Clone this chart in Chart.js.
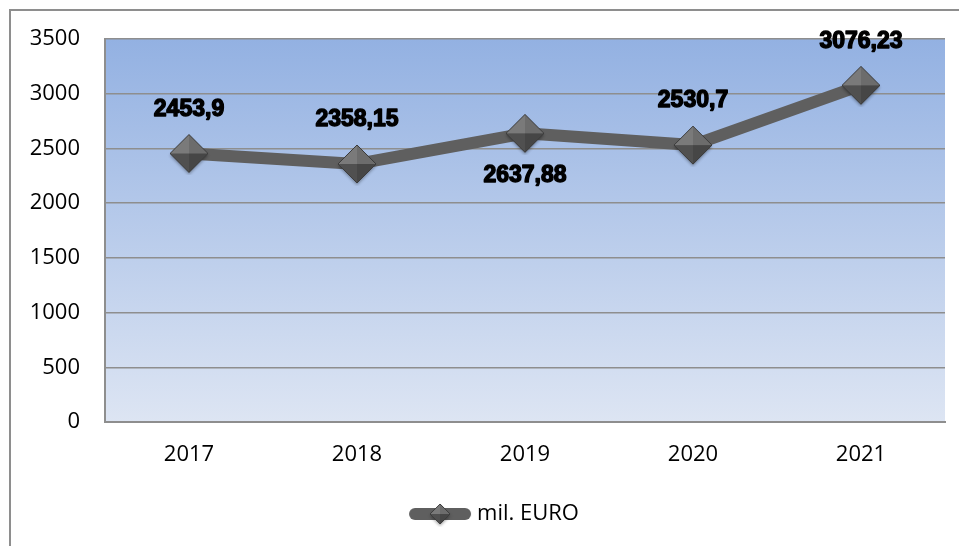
<!DOCTYPE html>
<html>
<head>
<meta charset="utf-8">
<script src="https://cdn.jsdelivr.net/npm/chart.js@4"></script>
<style>
	html, body { margin: 0; padding: 0; background: #fff; overflow: hidden; }
	#frame { position: absolute; left: 9px; top: 9px; width: 1000px; height: 600px; border: 2px solid #8e8e8e; }
	#salesChart { position: absolute; left: 0; top: 0; }
</style>
</head>
<body>
<div id="frame"></div>
<canvas id="salesChart" width="959" height="546"></canvas>
<script>
const years = ["2017", "2018", "2019", "2020", "2021"];
const values = [2453.9, 2358.15, 2637.88, 2530.7, 3076.23];
const valueLabels = ["2453,9", "2358,15", "2637,88", "2530,7", "3076,23"];
const labelBelow = [false, false, true, false, false];
const seriesName = "mil. EURO";

// diamond marker with faceted shading
function makeDiamond(r) {
	const size = r * 2 + 6;
	const c = document.createElement("canvas");
	c.width = size;
	c.height = size;
	const g = c.getContext("2d");
	const cx = size / 2, cy = size / 2;
	g.shadowColor = "rgba(0,0,0,0.35)";
	g.shadowBlur = 3;
	g.shadowOffsetY = 2;
	g.beginPath();
	g.moveTo(cx, cy - r);
	g.lineTo(cx + r, cy);
	g.lineTo(cx, cy + r);
	g.lineTo(cx - r, cy);
	g.closePath();
	g.fillStyle = "#555";
	g.fill();
	g.shadowColor = "transparent";
	const faces = [
		[[cx, cy - r], [cx - r, cy], "#7a7a7a"],
		[[cx, cy - r], [cx + r, cy], "#6c6c6c"],
		[[cx - r, cy], [cx, cy + r], "#505050"],
		[[cx + r, cy], [cx, cy + r], "#464646"],
	];
	faces.forEach(([a, b, col]) => {
		g.beginPath();
		g.moveTo(cx, cy);
		g.lineTo(a[0], a[1]);
		g.lineTo(b[0], b[1]);
		g.closePath();
		g.fillStyle = col;
		g.fill();
	});
	g.beginPath();
	g.moveTo(cx, cy - r);
	g.lineTo(cx + r, cy);
	g.lineTo(cx, cy + r);
	g.lineTo(cx - r, cy);
	g.closePath();
	g.strokeStyle = "#3c3c3c";
	g.lineWidth = 1;
	g.stroke();
	return c;
}

// legend icon: line with diamond, left side padded so the item sits a bit right of centre
function makeLegendIcon() {
	const c = document.createElement("canvas");
	c.width = 112;
	c.height = 26;
	const g = c.getContext("2d");
	g.strokeStyle = "#5f5f5f";
	g.lineWidth = 12;
	g.lineCap = "round";
	g.beginPath();
	g.moveTo(55, 13);
	g.lineTo(105, 13);
	g.stroke();
	const d = makeDiamond(10);
	g.drawImage(d, 80 - d.width / 2, 13 - d.height / 2);
	return c;
}

const pointImg = makeDiamond(19);
const legendImg = makeLegendIcon();

const plotBackground = {
	id: "plotBackground",
	beforeDatasetsDraw(chart) {
		const { ctx, chartArea: a } = chart;
		const grad = ctx.createLinearGradient(0, a.top, 0, a.bottom);
		grad.addColorStop(0, "#93b1e2");
		grad.addColorStop(1, "#dde5f3");
		ctx.save();
		ctx.globalCompositeOperation = "destination-over";
		ctx.fillStyle = grad;
		ctx.fillRect(a.left, a.top, a.right - a.left, a.bottom - a.top);
		ctx.restore();
	},
};

const valueLabelPlugin = {
	id: "valueLabels",
	afterDatasetsDraw(chart) {
		const ctx = chart.ctx;
		const meta = chart.getDatasetMeta(0);
		ctx.save();
		ctx.font = "bold 23px 'Liberation Sans', Arial, sans-serif";
		ctx.textAlign = "center";
		ctx.textBaseline = "middle";
		ctx.fillStyle = "#000";
		ctx.strokeStyle = "#000";
		ctx.lineWidth = 1.4;
		ctx.lineJoin = "round";
		meta.data.forEach((pt, i) => {
			const y = labelBelow[i] ? pt.y + 42 : pt.y - 44;
			ctx.strokeText(valueLabels[i], pt.x, y);
			ctx.fillText(valueLabels[i], pt.x, y);
		});
		ctx.restore();
	},
};

const tickFont = { family: "'Open Sans', sans-serif", size: 22 };

const ctx = document.getElementById("salesChart");
const config = {
	type: "line",
	data: {
		labels: years,
		datasets: [
			{
				label: seriesName,
				data: values,
				borderColor: "#5f5f5f",
				borderWidth: 12,
				borderCapStyle: "round",
				borderJoinStyle: "round",
				pointStyle: pointImg,
				pointRadius: 19,
				tension: 0,
			},
		],
	},
	options: {
		responsive: false,
		animation: false,
		layout: {
			autoPadding: false,
			padding: { left: 0, right: 14, top: 39, bottom: 11 },
		},
		plugins: {
			legend: {
				position: "bottom",
				labels: {
					usePointStyle: true,
					pointStyle: legendImg,
					pointStyleWidth: 100,
					padding: 10,
					color: "#000",
					font: tickFont,
				},
			},
			tooltip: { enabled: false },
		},
		scales: {
			x: {
				offset: true,
				grid: {
					display: true,
					drawOnChartArea: false,
					drawTicks: true,
					tickLength: 20,
					tickColor: "transparent",
				},
				border: { display: true, color: "#8e8e8e", width: 2 },
				ticks: { color: "#000", font: tickFont, padding: 0 },
				afterFit(scale) {
					scale.height = 71;
				},
			},
			y: {
				min: 0,
				max: 3500,
				grid: { color: "#8e8e8e", lineWidth: 1.5, drawTicks: false },
				border: { display: true, color: "#8e8e8e", width: 2 },
				ticks: {
					stepSize: 500,
					color: "#000",
					font: tickFont,
					padding: 25,
					callback: (v) => String(v),
				},
				afterFit(scale) {
					scale.width = 105;
				},
			},
		},
	},
	plugins: [plotBackground, valueLabelPlugin],
};
const chart = new Chart(ctx, config);
</script>
</body>
</html>
